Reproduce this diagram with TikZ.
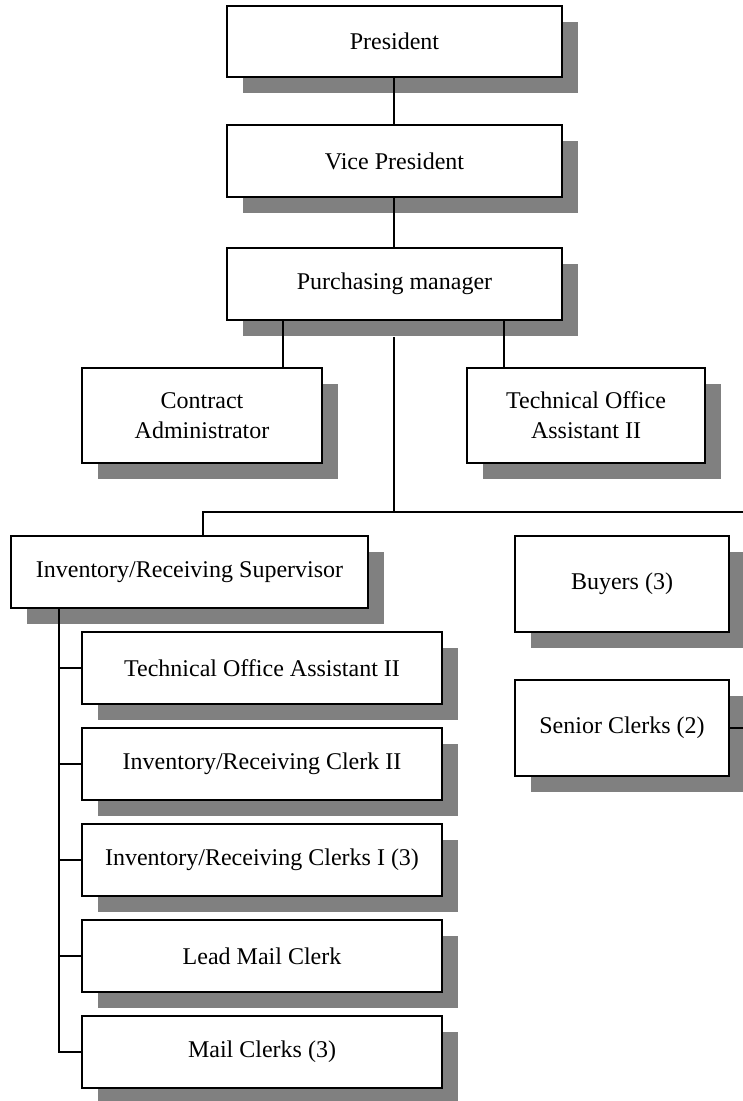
\documentclass[tikz,border=0pt]{standalone}
\usepackage{fontspec}
\setmainfont{Liberation Serif}
\usetikzlibrary{shadows}
\definecolor{shadowgray}{RGB}{128,128,128}
\tikzset{
  unitbox/.style={draw=black, fill=white, line width=1.8pt, inner sep=0pt,
    align=center, font=\fontsize{24}{30}\selectfont,
    drop shadow={shadow xshift=16pt, shadow yshift=-16pt, opacity=1, fill=shadowgray}},
  link/.style={draw=black, line width=1.8pt}
}
\begin{document}
\begin{tikzpicture}[x=1pt, y=-1pt]
  \useasboundingbox (0,0) rectangle (743,1101);

  % top of the chain
  \node[unitbox, minimum width=335pt, minimum height=71pt] (pres) at (394.5,41.5) {President};
  \node[unitbox, minimum width=335pt, minimum height=72pt] (vp) at (394.5,161) {Vice President};
  \node[unitbox, minimum width=335pt, minimum height=72pt] (pm) at (394.5,284) {Purchasing manager};

  % staff positions
  \node[unitbox, minimum width=240pt, minimum height=95pt] (ca) at (202,415.5) {Contract\\Administrator};
  \node[unitbox, minimum width=238pt, minimum height=95pt] (toa) at (586,415.5) {Technical Office\\Assistant II};

  % second level
  \node[unitbox, minimum width=357pt, minimum height=72pt] (sup) at (189.5,572) {Inventory/Receiving Supervisor};
  \node[unitbox, minimum width=214pt, minimum height=96pt] (buy) at (622,584) {Buyers (3)};
  \node[unitbox, minimum width=214pt, minimum height=96pt] (sen) at (622,728) {Senior Clerks (2)};

  % supervisor's staff
  \node[unitbox, minimum width=360pt, minimum height=72pt] (m1) at (262,668) {Technical Office Assistant II};
  \node[unitbox, minimum width=360pt, minimum height=72pt] (m2) at (262,764) {Inventory/Receiving Clerk II};
  \node[unitbox, minimum width=360pt, minimum height=72pt] (m3) at (262,860) {Inventory/Receiving Clerks I (3)};
  \node[unitbox, minimum width=360pt, minimum height=72pt] (m4) at (262,956) {Lead Mail Clerk};
  \node[unitbox, minimum width=360pt, minimum height=72pt] (m5) at (262,1052) {Mail Clerks (3)};

  % routing coordinates
  \coordinate (midx) at (394,0);
  \coordinate (cax) at (283,0);
  \coordinate (tox) at (504,0);
  \coordinate (trunktop) at (394,337);
  \coordinate (junction) at (394,512);
  \coordinate (branchleft) at (203,512);
  \coordinate (branchright) at (743,512);
  \coordinate (senright) at (743,728);
  \coordinate (spine) at (59,0);

  % connectors
  \draw[link] (pres.south -| midx) -- (vp.north -| midx);
  \draw[link] (vp.south -| midx) -- (pm.north -| midx);
  \draw[link] (pm.south -| cax) -- (ca.north -| cax);
  \draw[link] (pm.south -| tox) -- (toa.north -| tox);
  \draw[link] (trunktop) -- (junction);
  \draw[link] (branchright) -- (branchleft) -- (sup.north -| branchleft);
  \draw[link] (sen.east) -- (senright);
  \draw[link] (sup.south -| spine) |- (m5.west);
  \foreach \m in {m1,m2,m3,m4}
    \draw[link] (spine |- \m.west) -- (\m.west);
\end{tikzpicture}
\end{document}
